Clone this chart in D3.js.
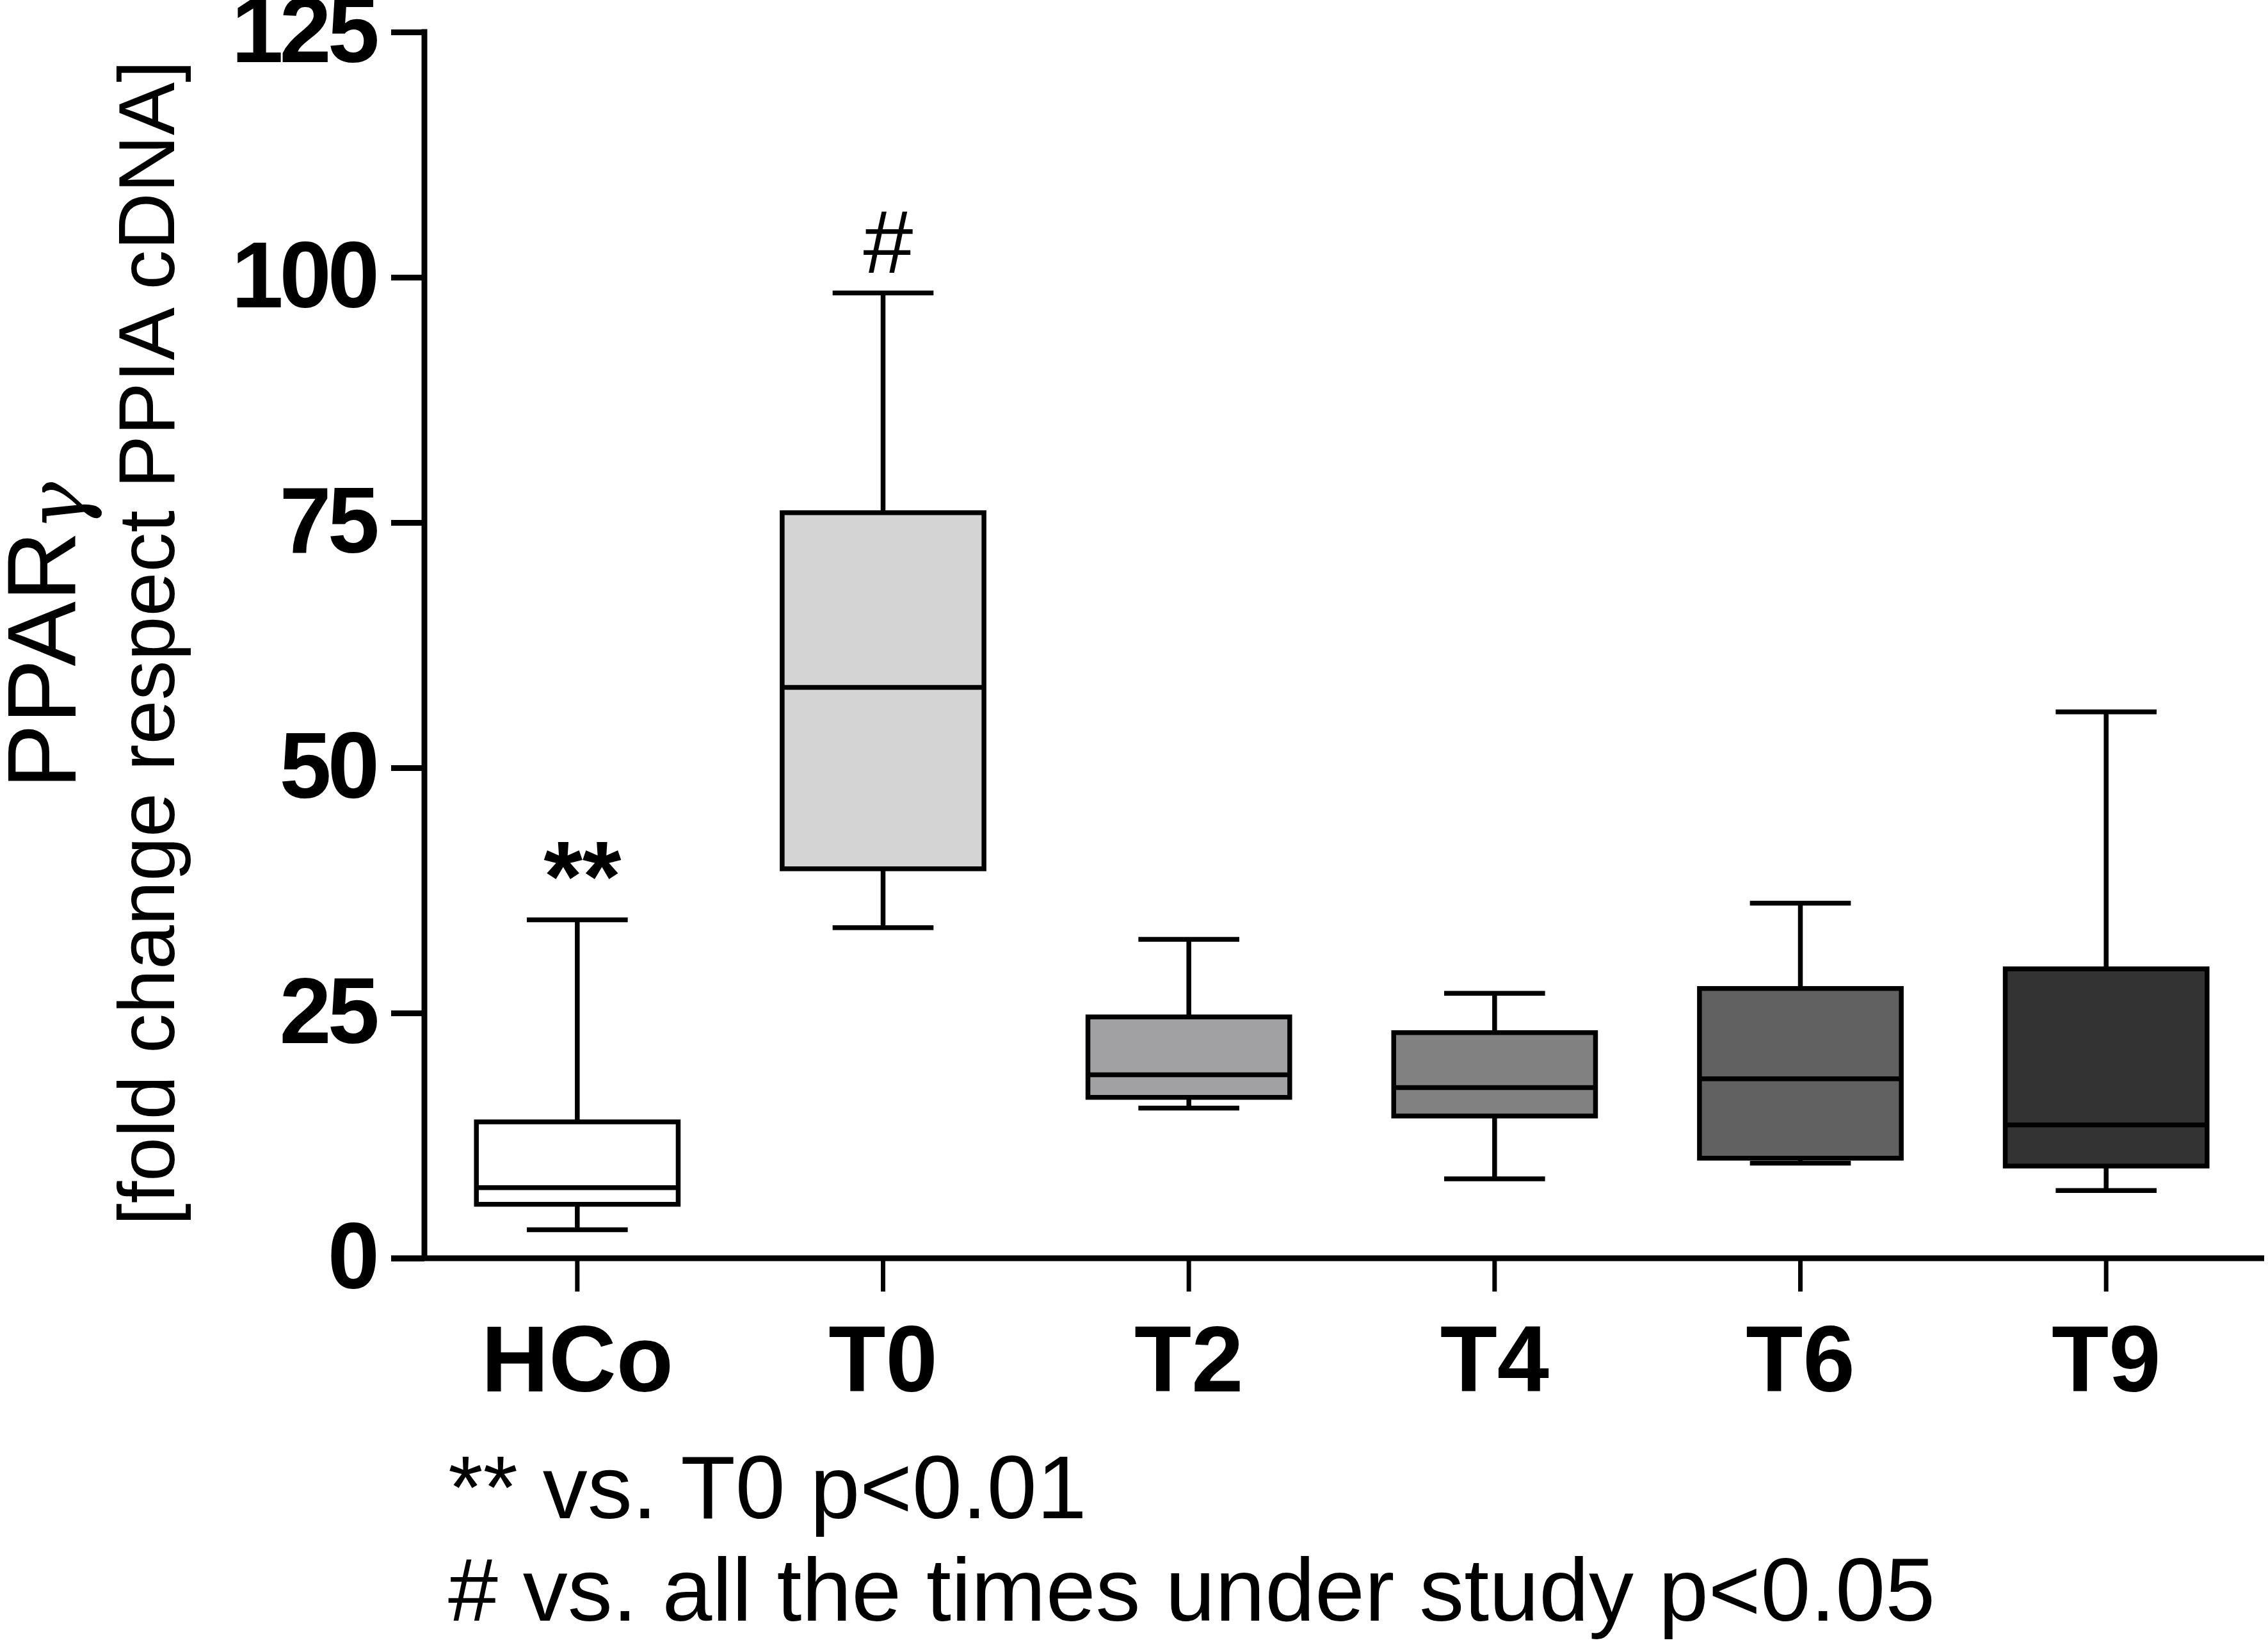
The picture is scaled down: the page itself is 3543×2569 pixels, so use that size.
<!DOCTYPE html>
<html>
<head>
<meta charset="utf-8">
<script src="https://cdn.jsdelivr.net/npm/d3@7"></script>
<style>
  body { margin: 0; background: #fff; }
  svg { display: block; font-family: "Liberation Sans", Arial, sans-serif; }
</style>
</head>
<body>
<svg id="chart" width="3543" height="2569"></svg>
<script>
// groups and box-plot values
var groups = ["HCo", "T0", "T2", "T4", "T6", "T9"];
var whiskerLow = [2.9, 33.7, 15.3, 8.1, 9.7, 6.9];
var q1 = [5.5, 39.7, 16.4, 14.5, 10.2, 9.4];
var median = [7.2, 58.2, 18.7, 17.4, 18.3, 13.6];
var q3 = [13.9, 76.0, 24.6, 23.0, 27.5, 29.5];
var whiskerHigh = [34.5, 98.4, 32.5, 27.0, 36.2, 55.7];
var fills = ["#ffffff", "#d4d4d4", "#a1a1a4", "#818181", "#616161", "#333333"];
var marks = ["**", "#", "", "", "", ""];
var yTicks = [0, 25, 50, 75, 100, 125];
var notes = ["** vs. T0 p<0.01", "# vs. all the times under study p<0.05"];

var svg = d3.select("#chart");

var y = d3.scaleLinear().domain([0, 125]).range([1965, 50]);
var x = d3.scaleBand().domain(groups).range([663, 3529]).padding(0);

var boxW = x.bandwidth() * 0.66;
var capW = boxW / 2;

// y axis
var yAxis = svg.append("g")
    .attr("transform", "translate(663,0)")
    .call(d3.axisLeft(y).tickValues(yTicks).tickSize(52).tickSizeOuter(0).tickPadding(24));
yAxis.select(".domain").remove();
yAxis.selectAll(".tick line").attr("stroke", "#000").attr("stroke-width", 9);
yAxis.selectAll(".tick text")
    .attr("fill", "#000")
    .style("font-size", "146px")
    .style("font-weight", "bold")
    .style("font-family", "'Liberation Sans', Arial, sans-serif")
    .style("letter-spacing", "-6px");

svg.append("line")
    .attr("x1", 663).attr("x2", 663)
    .attr("y1", y(125) - 4.5).attr("y2", y(0))
    .attr("stroke", "#000").attr("stroke-width", 9);

// x axis
var xAxis = svg.append("g")
    .attr("transform", "translate(0," + y(0) + ")")
    .call(d3.axisBottom(x).tickSize(52).tickSizeOuter(0).tickPadding(52));
xAxis.select(".domain").remove();
xAxis.selectAll(".tick line").attr("stroke", "#000").attr("stroke-width", 7);
xAxis.selectAll(".tick text")
    .attr("fill", "#000")
    .style("font-size", "146px")
    .style("font-weight", "bold")
    .style("font-family", "'Liberation Sans', Arial, sans-serif");

svg.append("line")
    .attr("x1", 611).attr("x2", 3537)
    .attr("y1", y(0)).attr("y2", y(0))
    .attr("stroke", "#000").attr("stroke-width", 9);

// boxes
var data = groups.map(function (g, i) {
    return { g: g, lo: whiskerLow[i], q1: q1[i], med: median[i], q3: q3[i], hi: whiskerHigh[i], fill: fills[i], mark: marks[i] };
});

var box = svg.append("g").selectAll("g").data(data).join("g")
    .attr("transform", function (d) { return "translate(" + (x(d.g) + x.bandwidth() / 2) + ",0)"; });

// whisker stems
box.append("line")
    .attr("x1", 0).attr("x2", 0)
    .attr("y1", function (d) { return y(d.hi); })
    .attr("y2", function (d) { return y(d.lo); })
    .attr("stroke", "#000").attr("stroke-width", 7.5);

// caps
box.selectAll(".cap").data(function (d) { return [d.lo, d.hi]; }).join("line")
    .attr("class", "cap")
    .attr("x1", -capW / 2).attr("x2", capW / 2)
    .attr("y1", function (v) { return y(v); })
    .attr("y2", function (v) { return y(v); })
    .attr("stroke", "#000").attr("stroke-width", 7.5);

box.append("rect")
    .attr("x", -boxW / 2)
    .attr("width", boxW)
    .attr("y", function (d) { return y(d.q3); })
    .attr("height", function (d) { return y(d.q1) - y(d.q3); })
    .attr("fill", function (d) { return d.fill; })
    .attr("stroke", "#000").attr("stroke-width", 7.5);

box.append("line")
    .attr("x1", -boxW / 2).attr("x2", boxW / 2)
    .attr("y1", function (d) { return y(d.med); })
    .attr("y2", function (d) { return y(d.med); })
    .attr("stroke", "#000").attr("stroke-width", 7.5);

// significance marks (asterisks sit high in the em box, so they go lower)
box.append("text")
    .attr("x", 8)
    .attr("y", function (d) { return y(d.hi) - (d.mark === "**" ? 14 : 32); })
    .attr("text-anchor", "middle")
    .style("font-size", function (d) { return d.mark === "**" ? "156px" : "140px"; })
    .style("font-weight", function (d) { return d.mark === "**" ? "bold" : "normal"; })
    .text(function (d) { return d.mark; });

// y axis title
svg.append("text")
    .attr("transform", "translate(118,1232) rotate(-90)")
    .style("font-size", "152px")
    .text("PPAR")
    .append("tspan")
    .attr("dy", 14)
    .style("font-size", "128px")
    .style("font-family", "'DejaVu Serif', serif")
    .style("font-style", "italic")
    .text("γ");

svg.append("text")
    .attr("transform", "translate(272,1004) rotate(-90)")
    .attr("text-anchor", "middle")
    .style("font-size", "124px")
    .text("[fold change respect PPIA cDNA]");

// footnotes
svg.append("g").selectAll("text").data(notes).join("text")
    .attr("x", 700)
    .attr("y", function (d, i) { return 2371 + i * 160; })
    .style("font-size", "140px")
    .text(function (d) { return d; });
</script>
</body>
</html>
